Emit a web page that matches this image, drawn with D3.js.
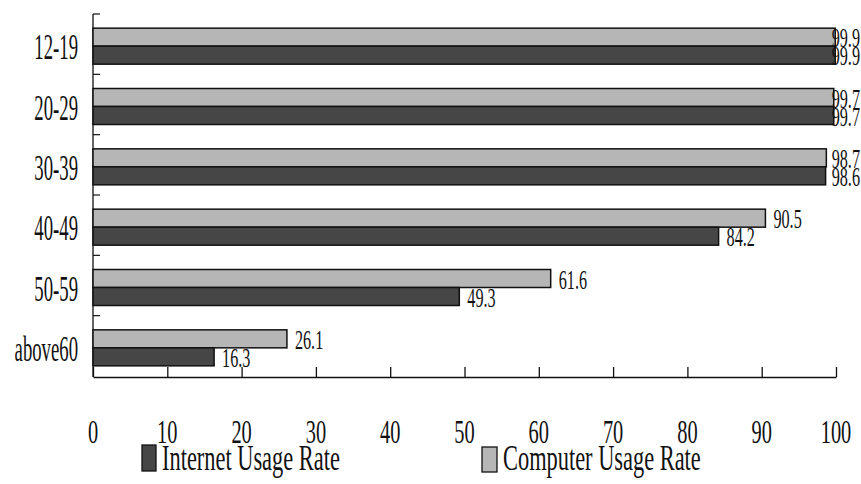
<!DOCTYPE html>
<html>
<head>
<meta charset="utf-8">
<script src="https://cdn.jsdelivr.net/npm/d3@7"></script>
<style>
  html, body { margin: 0; padding: 0; background: #fff; }
  svg { display: block; }
  text { font-family: "Liberation Serif", "Times New Roman", serif; fill: #111; }
</style>
</head>
<body>
<svg id="chart" width="861" height="484"></svg>
<script>
const categories = ["12-19", "20-29", "30-39", "40-49", "50-59", "above60"];
const computerRate = [99.9, 99.7, 98.7, 90.5, 61.6, 26.1];
const internetRate = [99.9, 99.7, 98.6, 84.2, 49.3, 16.3];
const xTicks = [0, 10, 20, 30, 40, 50, 60, 70, 80, 90, 100];
const seriesNames = ["Internet Usage Rate", "Computer Usage Rate"];

const W = 861, H = 484;
const svg = d3.select("#chart");

const x = d3.scaleLinear().domain([0, 100]).range([93, 836]);
const y = d3.scaleBand().domain(categories).range([16, 378]).padding(0);
const sub = d3.scaleBand().domain(["computer", "internet"])
  .range([0, 36]).padding(0);

const LIGHT = "#b6b6b6", DARK = "#464646";

// condensed text helper
function ctext(g, str, tx, ty, size, sx, anchor) {
  return g.append("text")
    .attr("transform", `translate(${tx},${ty}) scale(${sx},1)`)
    .attr("font-size", size)
    .attr("text-anchor", anchor || "start")
    .text(str);
}

// x axis (bottom line with inward ticks)
const xAxis = d3.axisBottom(x).tickValues(xTicks).tickSize(-10).tickSizeOuter(0).tickFormat("");
svg.append("g").attr("transform", "translate(0,377)").call(xAxis)
  .call(g => g.selectAll("path,line").attr("stroke", "#111").attr("stroke-width", 1.3));

// left axis line with boundary ticks
svg.append("line").attr("x1", x(0)).attr("x2", x(0)).attr("y1", 14).attr("y2", 377)
  .attr("stroke", "#111").attr("stroke-width", 1.3);
svg.append("g").selectAll("line").data(categories).join("line")
  .attr("x1", x(0)).attr("x2", x(0) + 7)
  .attr("y1", d => y(d) - 2).attr("y2", d => y(d) - 2)
  .attr("stroke", "#111").attr("stroke-width", 1.2);

// bars
const rows = categories.map((c, i) => ({ c, comp: computerRate[i], inet: internetRate[i] }));
const grp = svg.append("g").selectAll("g").data(rows).join("g")
  .attr("transform", d => `translate(0,${y(d.c) + (y.bandwidth() - 36) / 2})`);

grp.append("rect")
  .attr("x", x(0)).attr("y", sub("computer"))
  .attr("width", d => x(d.comp) - x(0)).attr("height", sub.bandwidth())
  .attr("fill", LIGHT).attr("stroke", "#111").attr("stroke-width", 1.5);
grp.append("rect")
  .attr("x", x(0)).attr("y", sub("internet"))
  .attr("width", d => x(d.inet) - x(0)).attr("height", sub.bandwidth())
  .attr("fill", DARK).attr("stroke", "#111").attr("stroke-width", 1.5);

// value labels (kept inside the right edge)
const LBL_SIZE = 27, LBL_SX = 0.6;
function valueLabel(g, v, ty) {
  const t = ctext(g, v.toFixed(1), 0, ty, LBL_SIZE, LBL_SX);
  const w = t.node().getComputedTextLength() * LBL_SX;
  const tx = Math.min(x(v) + 8, W - 1 - w);
  t.attr("transform", `translate(${tx},${ty}) scale(${LBL_SX},1)`);
}
grp.each(function(d) {
  const g = d3.select(this);
  valueLabel(g, d.comp, sub("computer") + sub.bandwidth() + 1);
  valueLabel(g, d.inet, sub("internet") + sub.bandwidth() + 1);
});

// category labels
const catG = svg.append("g");
categories.forEach(c => {
  ctext(catG, c, 78, y(c) + y.bandwidth() / 2 + 13, 36, 0.52, "end");
});

// x tick labels
const tickG = svg.append("g");
xTicks.forEach(t => {
  ctext(tickG, String(t), x(t), 443, 34, 0.6, "middle");
});

// legend
const leg = svg.append("g");
leg.append("rect").attr("x", 142).attr("y", 445).attr("width", 14).attr("height", 26)
  .attr("fill", DARK).attr("stroke", "#111").attr("stroke-width", 1.3);
ctext(leg, seriesNames[0], 162, 470, 35, 0.64);
leg.append("rect").attr("x", 482).attr("y", 447).attr("width", 15).attr("height", 25)
  .attr("fill", LIGHT).attr("stroke", "#111").attr("stroke-width", 1.3);
ctext(leg, seriesNames[1], 503, 470, 35, 0.64);
</script>
</body>
</html>
